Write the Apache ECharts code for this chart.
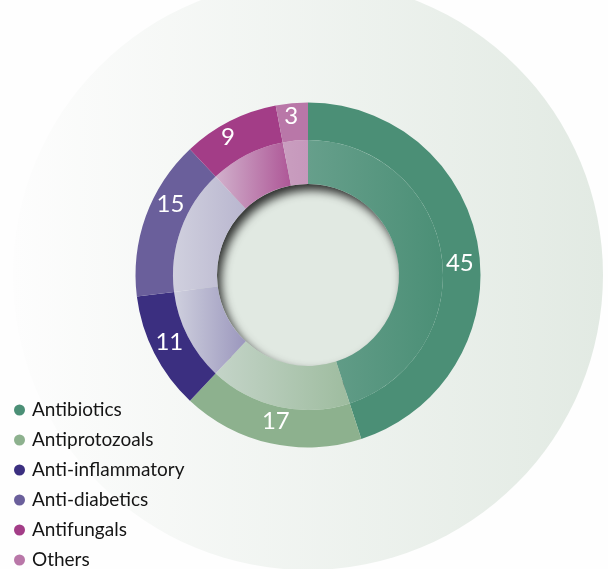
<!DOCTYPE html>
<html>
<head>
<meta charset="utf-8">
<script src="https://cdn.jsdelivr.net/npm/echarts@6/dist/echarts.min.js"></script>
<style>
html, body { margin: 0; padding: 0; background: #fefefe; }
#chart { width: 608px; height: 569px; }
</style>
</head>
<body>
<div id="chart"></div>
<script>
var categories = ['Antibiotics', 'Antiprotozoals', 'Anti-inflammatory', 'Anti-diabetics', 'Antifungals', 'Others'];
var values = [45, 17, 11, 15, 9, 3];

var colors = ['#4b8f76', '#8db18e', '#3b2f80', '#6a5f9b', '#a33d87', '#b977a8'];
// wash-out of the inner ring, left edge -> right edge of each segment
var fadeLeft = [0.17, 0.6, 0.85, 0.8, 0.66, 0.33];
var fadeRight = [0.0, 0.18, 0.55, 0.62, 0.15, 0.28];
// small nudges so the numbers sit where they do in the picture
var labelNudge = [[-3, 13], [2, -7], [1, -4], [10, -18], [-9, 2], [-2, -3]];

var CENTER = [308, 275];

function fade(hex, a) {
    var c = parseInt(hex.slice(1), 16);
    var r = (c >> 16) & 255, g = (c >> 8) & 255, b = c & 255;
    var t = [233, 236, 239];
    return 'rgb(' + Math.round(r + (t[0] - r) * a) + ',' +
        Math.round(g + (t[1] - g) * a) + ',' +
        Math.round(b + (t[2] - b) * a) + ')';
}

var outerData = [];
var innerData = [];
for (var i = 0; i < categories.length; i++) {
    outerData.push({
        name: categories[i],
        value: values[i],
        itemStyle: { color: colors[i] }
    });
    innerData.push({
        name: categories[i],
        value: values[i],
        itemStyle: {
            color: {
                type: 'linear', x: 0, y: 0, x2: 1, y2: 0,
                colorStops: [
                    { offset: 0, color: fade(colors[i], fadeLeft[i]) },
                    { offset: 1, color: fade(colors[i], fadeRight[i]) }
                ]
            }
        }
    });
}

var myChart = echarts.init(document.getElementById('chart'), null, { renderer: 'canvas' });

var option = {
    animation: false,
    backgroundColor: '#fefefe',
    legend: {
        data: categories,
        orient: 'vertical',
        left: 9,
        top: 395,
        height: 200,
        icon: 'circle',
        itemWidth: 11,
        itemHeight: 11,
        itemGap: 10,
        selectedMode: false,
        textStyle: {
            fontFamily: 'Lato',
            fontSize: 19,
            lineHeight: 20,
            color: '#151515',
            padding: [0, 0, 0, 2]
        }
    },
    series: [
        {
            // outer ring with the numbers, listed first so the legend takes its colours
            type: 'pie',
            z: 5,
            silent: true,
            center: CENTER,
            radius: [135, 172.5],
            startAngle: 90,
            label: {
                show: true,
                position: 'inside',
                formatter: '{c}',
                color: '#ffffff',
                fontFamily: 'Lato',
                fontSize: 24
            },
            labelLine: { show: false },
            labelLayout: function(params) {
                var n = labelNudge[params.dataIndex] || [0, 0];
                return { dx: n[0], dy: n[1] };
            },
            data: outerData
        },
        {
            // big pale disc behind everything
            type: 'pie',
            z: 1,
            silent: true,
            center: CENTER,
            radius: [0, 295],
            label: { show: false },
            labelLine: { show: false },
            data: [{
                name: 'bg',
                value: 1,
                itemStyle: {
                    color: {
                        type: 'linear', x: 0, y: 0, x2: 1, y2: 0,
                        colorStops: [
                            { offset: 0, color: '#fdfdfd' },
                            { offset: 1, color: '#e2eae3' }
                        ]
                    }
                }
            }]
        },
        {
            // hole in the middle
            type: 'pie',
            z: 2,
            silent: true,
            center: CENTER,
            radius: [0, 100],
            label: { show: false },
            labelLine: { show: false },
            data: [{ name: 'hole', value: 1, itemStyle: { color: '#e1e9e2' } }]
        },
        {
            // ring used only to throw the inset shadow into the hole
            type: 'pie',
            z: 3,
            silent: true,
            center: CENTER,
            radius: [91, 112],
            label: { show: false },
            labelLine: { show: false },
            data: [{
                name: 'shade',
                value: 1,
                itemStyle: {
                    color: '#c9d2cc',
                    shadowColor: 'rgba(0,0,0,0.8)',
                    shadowBlur: 10,
                    shadowOffsetX: 4,
                    shadowOffsetY: 6
                }
            }]
        },
        {
            type: 'pie',
            z: 4,
            silent: true,
            center: CENTER,
            radius: [91, 135],
            startAngle: 90,
            label: { show: false },
            labelLine: { show: false },
            data: innerData
        }
    ]
};

myChart.setOption(option);
</script>
</body>
</html>
